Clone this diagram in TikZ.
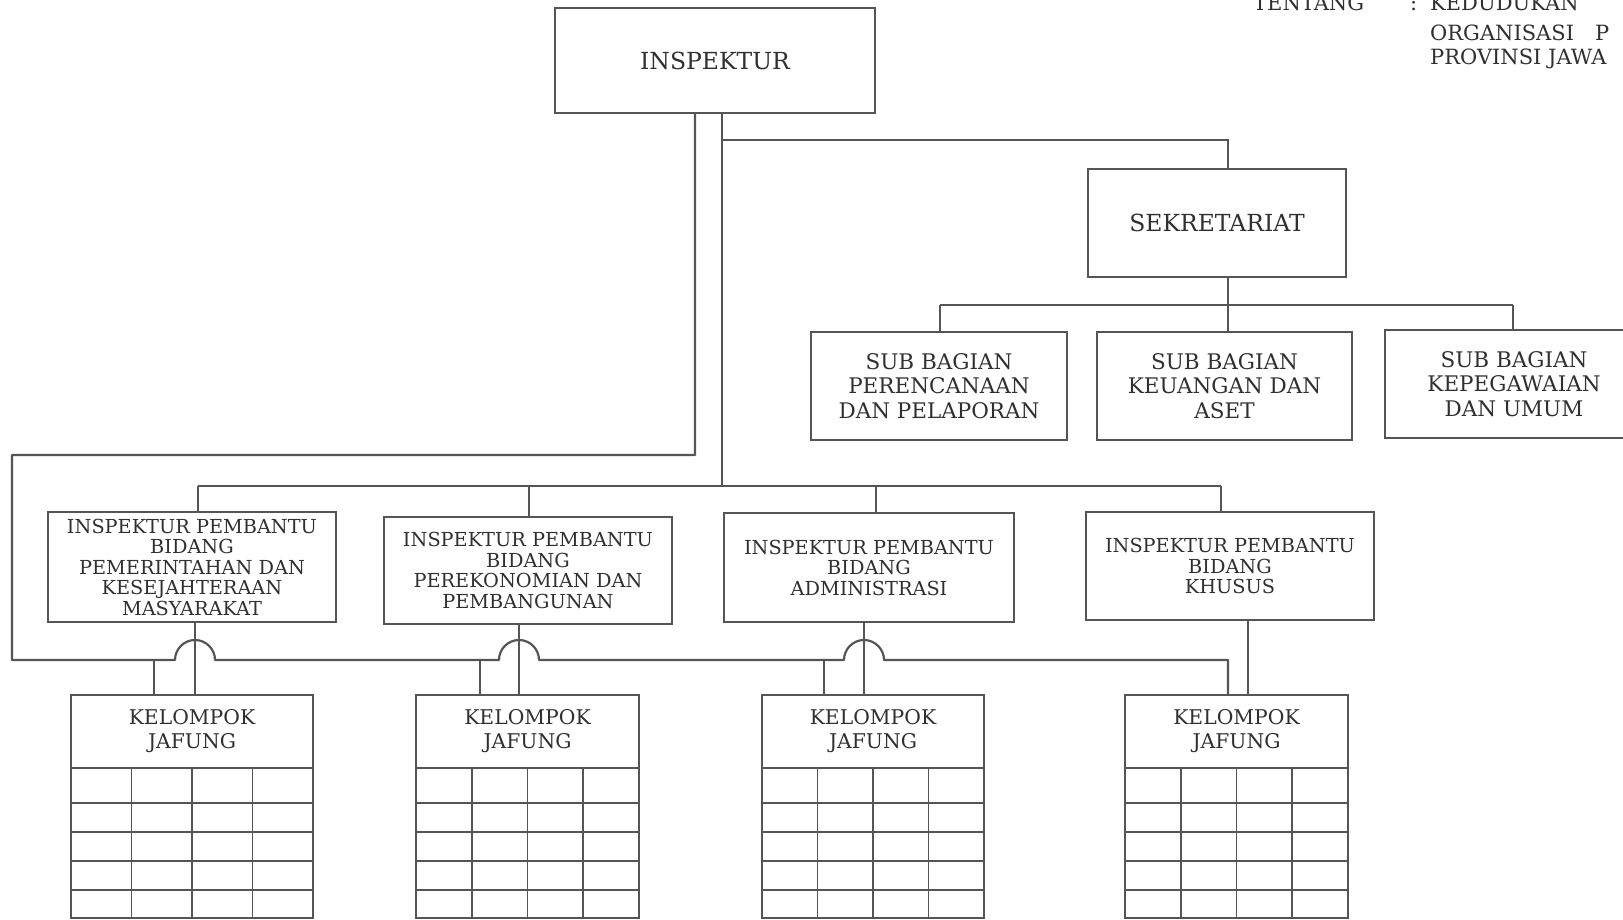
\documentclass[tikz,border=0pt]{standalone}
\usepackage{fontspec}
\setmainfont{DejaVu Serif}
\usepackage{tikz}
\usetikzlibrary{calc}

\definecolor{tinta}{HTML}{555555}
\definecolor{huruf}{HTML}{303030}

\tikzset{
  kotak/.style={draw=tinta,line width=2.2pt,inner sep=0pt,outer sep=0pt,align=center,text=huruf},
  garis/.style={draw=tinta,line width=2.2pt},
  kisi/.style={draw=tinta,line width=1.8pt},
  fbesar/.style={font=\fontsize{23.5}{26}\selectfont},
  fsub/.style={font=\fontsize{21.5}{24.5}\selectfont},
  fip/.style={font=\fontsize{19.3}{20.5}\selectfont},
  fjaf/.style={font=\fontsize{20.3}{24}\selectfont},
  fkop/.style={font=\fontsize{21}{25}\selectfont,text=huruf,inner sep=0pt,anchor=base west}
}

\begin{document}
\begin{tikzpicture}[x=1pt,y=-1pt]
\clip (0,0) rectangle (1623,919);
\fill[white] (0,0) rectangle (1623,919);

% kepala surat
\node[fkop] (tentang) at (1253,10) {TENTANG}; \node[fkop] (titik) at (1410,10) {:}; \node[fkop] (ked) at (1430,10) {KEDUDUKAN};
\node[fkop] (org) at (1430,40) {ORGANISASI}; \node[fkop] (orgp) at (1595,40) {P};
\node[fkop] (prov) at (1430,64) {PROVINSI JAWA};

% pimpinan dan sekretariat
\node[kotak,fbesar,minimum width=320pt,minimum height=105pt] (insp) at (715,60.5) {INSPEKTUR};
\node[kotak,fbesar,minimum width=258pt,minimum height=108pt] (sekr) at (1217,223) {SEKRETARIAT};

\node[kotak,fsub,minimum width=256pt,minimum height=108pt] (sb1) at (939,386) {SUB BAGIAN\\PERENCANAAN\\DAN PELAPORAN};
\node[kotak,fsub,minimum width=255pt,minimum height=108pt] (sb2) at (1224.5,386) {SUB BAGIAN\\KEUANGAN DAN\\ASET};
\node[kotak,fsub,minimum width=258pt,minimum height=108pt] (sb3) at (1514,384) {SUB BAGIAN\\KEPEGAWAIAN\\DAN UMUM};

% inspektur pembantu
\node[kotak,fip,minimum width=288pt,minimum height=110pt] (ip1) at (192,567) {INSPEKTUR PEMBANTU\\BIDANG\\PEMERINTAHAN DAN\\KESEJAHTERAAN\\MASYARAKAT};
\node[kotak,fip,minimum width=288pt,minimum height=107pt] (ip2) at (528,570.5) {INSPEKTUR PEMBANTU\\BIDANG\\PEREKONOMIAN DAN\\PEMBANGUNAN};
\node[kotak,fip,minimum width=290pt,minimum height=109pt] (ip3) at (869,567.5) {INSPEKTUR PEMBANTU\\BIDANG\\ADMINISTRASI};
\node[kotak,fip,minimum width=288pt,minimum height=108pt] (ip4) at (1230,566) {INSPEKTUR PEMBANTU\\BIDANG\\KHUSUS};

% kelompok jafung
\node[kotak,fjaf,minimum width=242pt,minimum height=73pt] (kj1) at (192,731.5) {KELOMPOK\\JAFUNG};
\node[kotak,fjaf,minimum width=223pt,minimum height=73pt] (kj2) at (527.5,731.5) {KELOMPOK\\JAFUNG};
\node[kotak,fjaf,minimum width=222pt,minimum height=73pt] (kj3) at (873,731.5) {KELOMPOK\\JAFUNG};
\node[kotak,fjaf,minimum width=223pt,minimum height=73pt] (kj4) at (1236.5,731.5) {KELOMPOK\\JAFUNG};

\foreach \k in {1,...,4}{
  \draw[kisi] (kj\k.south west) rectangle ($(kj\k.south east)+(0,150)$);
  \foreach \r in {35,64,93,122}
    \draw[kisi] ($(kj\k.south west)+(0,\r)$) -- ($(kj\k.south east)+(0,\r)$);
  \foreach \c in {0.25,0.5,0.75}
    \draw[kisi] ($(kj\k.south west)!\c!(kj\k.south east)$) -- ++(0,150);
}

% garis dari inspektur
\coordinate (t1) at (695,113); \coordinate (t2) at (722,113);
\coordinate (s0) at (722,140); \coordinate (s1) at (1228,140);
\draw[garis] (s0) -- (s1) -- (s1 |- sekr.north);

\coordinate (s2) at (1228,277); \coordinate (s3) at (1228,305);
\coordinate (b1) at (940,305); \coordinate (b3) at (1513,305);
\draw[garis] (s2) -- (s3); \draw[garis] (b1) -- (b3);
\draw[garis] (b1) -- (b1 |- sb1.north); \draw[garis] (s3) -- (s3 |- sb2.north); \draw[garis] (b3) -- (b3 |- sb3.north);

% bus inspektur pembantu
\coordinate (a1) at (198,486); \coordinate (a2) at (529,486); \coordinate (a3) at (876,486); \coordinate (a4) at (1221,486);
\draw[garis] (t2) -- (t2 |- a1);
\draw[garis] (a1) -- (a4);
\draw[garis] (a1) -- (a1 |- ip1.north); \draw[garis] (a2) -- (a2 |- ip2.north);
\draw[garis] (a3) -- (a3 |- ip3.north); \draw[garis] (a4) -- (a4 |- ip4.north);

% ke kelompok jafung
\coordinate (d1) at (195,622); \coordinate (d2) at (519,624); \coordinate (d3) at (864,622); \coordinate (d4) at (1248,620);
\draw[garis] (d1) -- (d1 |- kj1.north); \draw[garis] (d2) -- (d2 |- kj2.north);
\draw[garis] (d3) -- (d3 |- kj3.north); \draw[garis] (d4) -- (d4 |- kj4.north);

% garis koordinasi keliling
\coordinate (o2) at (1228,695);
\draw[garis,line join=round] (t1) -- (695,455) -- (12,455) -- (12,660)
  -- (175,660) .. controls (175,649) and (184,640) .. (195,640) .. controls (206,640) and (215,649) .. (215,660)
  -- (499,660) .. controls (499,649) and (508,640) .. (519,640) .. controls (530,640) and (539,649) .. (539,660)
  -- (844,660) .. controls (844,649) and (853,640) .. (864,640) .. controls (875,640) and (884,649) .. (884,660)
  -- (1228,660) -- (o2);
\coordinate (e1) at (154,660); \coordinate (e2) at (480,660); \coordinate (e3) at (824,660);
\draw[garis] (e1) -- (e1 |- kj1.north); \draw[garis] (e2) -- (e2 |- kj2.north); \draw[garis] (e3) -- (e3 |- kj3.north);

\end{tikzpicture}
\end{document}
